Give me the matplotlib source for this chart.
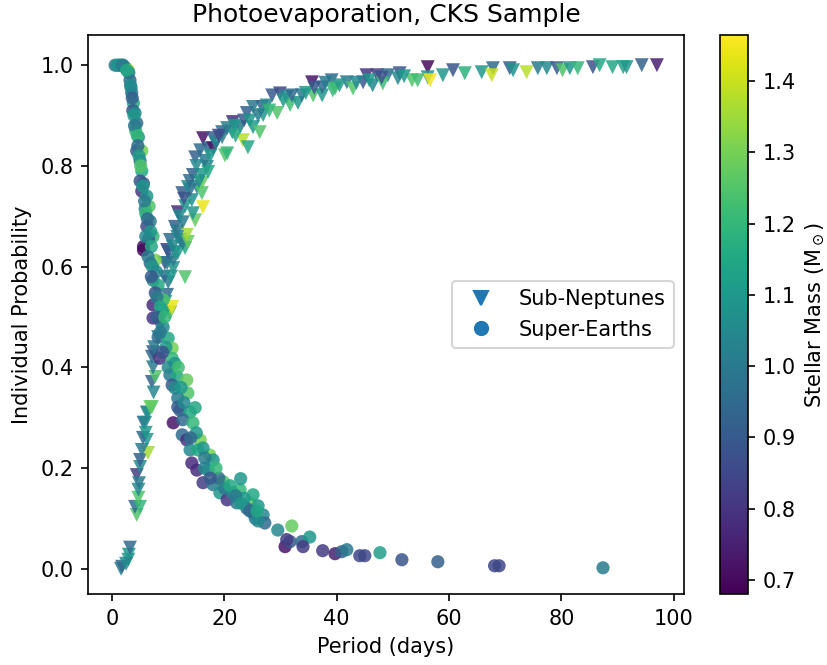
import numpy as np
import matplotlib
matplotlib.use('Agg')
import matplotlib.pyplot as plt
from matplotlib.lines import Line2D

# Super-Earths: period (days), probability, stellar mass
se_period = [0.55, 1.0, 1.5, 2.0, 2.4, 2.9, 3.0, 3.2, 3.4, 3.5, 3.8, 3.7, 4.1, 4.4, 4.2, 4.7,
             4.4, 5.3, 5.0, 5.3, 5.6, 5.3, 6.2, 5.9, 6.6, 6.8, 6.2, 7.3, 6.5, 5.6, 5.6, 7.7,
             6.8, 7.3, 8.2, 7.7, 9.1, 7.3, 8.9, 7.3, 9.1, 8.2, 10.0, 10.7, 8.5, 10.7, 11.2, 10.3,
             11.6, 13.3, 10.7, 11.2, 13.5, 11.7, 12.1, 13.9, 10.9, 12.6, 14.4, 11.7, 12.5, 13.3,
             15.7, 13.9, 15.3, 17.4, 14.2, 15.1, 17.1, 18.0, 16.2, 18.0, 19.8, 19.2, 20.5, 21.5,
             22.8, 22.9, 22.2, 24.6, 25.1, 25.1, 26.9, 27.2, 29.5, 32.0, 30.8, 31.7, 31.1, 33.8,
             35.2, 34.0, 37.5, 39.7, 40.9, 41.8, 44.1, 45.0, 47.7, 51.6, 58.0, 68.1, 68.9, 87.4,
             16.5, 19.0, 20.0, 23.5, 24.0, 26.0, 25.5, 18.5,
             1.2, 1.8, 2.6, 3.3, 3.6, 3.9, 4.0, 4.5, 4.6, 4.8, 5.1, 5.0, 5.5, 5.8, 6.0, 6.3,
             6.9, 6.0, 7.0, 6.4, 7.2, 7.9, 7.0, 8.0, 8.6, 8.0, 9.4, 8.6, 9.6, 9.0, 10.0, 11.8,
             12.3, 12.8, 14.8, 15.0, 14.0, 16.2, 16.5, 17.5, 21.0, 22.0, 23.0, 24.5, 26.0, 25.8]
se_prob = [1.0, 1.0, 1.0, 1.0, 0.995, 0.99, 0.985, 0.97, 0.955, 0.945, 0.925, 0.91, 0.905, 0.885, 0.87, 0.857,
           0.83, 0.83, 0.81, 0.79, 0.765, 0.75, 0.74, 0.715, 0.72, 0.69, 0.68, 0.66, 0.655, 0.64, 0.633, 0.613,
           0.607, 0.573, 0.563, 0.548, 0.534, 0.524, 0.514, 0.498, 0.48, 0.46, 0.458, 0.438, 0.418, 0.418, 0.408, 0.385,
           0.381, 0.375, 0.365, 0.359, 0.349, 0.339, 0.315, 0.311, 0.29, 0.296, 0.29, 0.321, 0.266, 0.256,
           0.256, 0.236, 0.236, 0.226, 0.21, 0.196, 0.196, 0.216, 0.171, 0.167, 0.173, 0.151, 0.137, 0.151,
           0.157, 0.179, 0.131, 0.131, 0.147, 0.111, 0.107, 0.091, 0.077, 0.085, 0.044, 0.054, 0.058, 0.054,
           0.063, 0.044, 0.036, 0.03, 0.034, 0.038, 0.026, 0.026, 0.032, 0.018, 0.014, 0.006, 0.006, 0.002,
           0.2, 0.18, 0.16, 0.14, 0.12, 0.125, 0.1, 0.2,
           1.0, 1.0, 0.99, 0.96, 0.935, 0.9, 0.88, 0.86, 0.84, 0.82, 0.8, 0.77, 0.76, 0.73, 0.705, 0.695,
           0.67, 0.66, 0.64, 0.62, 0.6, 0.59, 0.58, 0.54, 0.52, 0.5, 0.5, 0.47, 0.44, 0.43, 0.4, 0.4,
           0.36, 0.33, 0.32, 0.27, 0.26, 0.24, 0.22, 0.18, 0.165, 0.145, 0.13, 0.115, 0.095, 0.115]
se_mass = [1.0, 1.05, 0.95, 1.1, 1.0, 1.36, 1.05, 0.95, 1.1, 1.0, 1.15, 0.88, 1.05, 0.95, 1.2, 1.1,
           0.9, 1.3, 1.0, 1.15, 0.92, 0.8, 1.1, 1.05, 1.25, 1.0, 0.85, 1.2, 0.9, 0.72, 0.7, 1.3,
           0.95, 1.05, 1.15, 0.88, 1.25, 0.78, 1.1, 0.8, 1.05, 0.95, 1.15, 1.3, 0.8, 1.2, 1.1, 1.0,
           1.15, 1.28, 0.9, 1.05, 1.25, 1.0, 0.92, 1.15, 0.72, 0.95, 1.2, 0.9, 0.95, 0.8,
           1.3, 1.05, 1.15, 1.3, 0.78, 0.78, 1.05, 1.1, 0.82, 1.0, 1.25, 1.1, 0.8, 1.05,
           1.2, 1.1, 1.0, 1.3, 1.15, 1.0, 1.05, 0.95, 1.05, 1.28, 0.72, 0.9, 0.82, 0.95,
           1.1, 0.82, 0.82, 0.75, 0.92, 1.0, 0.85, 0.85, 1.12, 0.88, 0.92, 0.85, 0.85, 1.0,
           1.05, 0.95, 1.0, 1.1, 0.95, 1.1, 1.0, 1.2,
           1.1, 1.0, 1.15, 1.05, 0.92, 1.1, 1.0, 1.2, 0.95, 1.1, 1.25, 0.88, 1.1, 1.0, 1.2, 0.95,
           1.1, 1.05, 1.15, 1.0, 1.1, 1.05, 0.9, 1.0, 1.15, 0.92, 1.2, 1.0, 1.1, 0.88, 1.05, 1.22,
           1.1, 1.05, 1.15, 1.1, 0.95, 1.1, 1.0, 0.9, 1.15, 1.0, 1.1, 0.95, 1.05, 1.15]

# Sub-Neptunes: period (days), probability, stellar mass
sn_period = [1.6, 1.8, 2.9, 3.0, 3.2, 4.4, 4.1, 5.0, 4.7, 4.7, 4.4, 5.0, 5.0, 6.4, 5.3, 6.2,
             5.6, 5.9, 6.2, 6.4, 7.1, 6.8, 7.1, 7.7, 7.3, 7.1, 7.3, 8.2, 10.3, 10.3, 10.7, 9.8,
             10.0, 13.0, 10.9, 9.4, 9.8, 10.9, 9.8, 11.2, 11.7, 13.0, 12.6, 10.0, 10.3, 12.1,
             13.5, 13.3, 11.6, 11.2, 12.6, 14.8, 11.7, 14.4, 14.2, 16.2, 12.5, 13.9, 15.1, 16.0,
             13.5, 14.4, 16.0, 16.0, 16.9, 14.8, 17.1, 15.7, 16.2, 17.1, 18.0, 18.0, 19.6, 20.1,
             20.5, 19.6, 21.5, 21.4, 22.8, 23.3, 24.2, 25.1, 26.3, 24.0, 25.1, 26.7, 26.9, 29.4,
             28.5, 29.9, 31.1, 31.7, 33.1, 33.8, 35.6, 35.8, 37.4, 37.4, 39.1, 39.3, 39.7, 41.8,
             42.9, 44.7, 45.3, 47.2, 46.4, 49.1, 48.2, 51.2, 50.9, 53.4, 54.4, 56.2, 56.2, 56.6,
             58.9, 60.7, 62.8, 65.8, 67.8, 67.6, 70.8, 71.4, 73.8, 75.8, 77.4, 79.2, 80.2, 81.5,
             82.9, 85.6, 86.8, 89.1, 91.0, 91.6, 94.3, 97.0,
             2.5, 4.8, 5.5, 6.0, 7.4, 7.5, 8.5, 9.0, 9.5, 9.3, 10.5, 10.8, 11.5, 12.0,
             13.0, 12.8, 13.8, 15.5, 15.0, 16.5, 17.5, 18.5, 19.0, 20.5, 21.8, 22.0, 23.5, 24.5,
             26.0, 27.5, 28.0, 30.5, 32.0, 34.5, 36.0, 38.0, 40.5, 43.5, 45.8, 48.0, 52.0]
sn_prob = [0.0, 0.004, 0.018, 0.028, 0.042, 0.107, 0.123, 0.123, 0.141, 0.157, 0.186, 0.202, 0.216, 0.23, 0.236, 0.256,
           0.29, 0.29, 0.31, 0.31, 0.321, 0.321, 0.371, 0.381, 0.4, 0.421, 0.43, 0.46, 0.508, 0.51, 0.52, 0.544,
           0.569, 0.579, 0.597, 0.607, 0.607, 0.613, 0.633, 0.629, 0.627, 0.637, 0.647, 0.629, 0.653, 0.653,
           0.649, 0.663, 0.659, 0.679, 0.688, 0.692, 0.708, 0.706, 0.732, 0.718, 0.746, 0.752, 0.758, 0.746,
           0.758, 0.782, 0.766, 0.782, 0.798, 0.817, 0.788, 0.831, 0.855, 0.835, 0.835, 0.855, 0.857, 0.821,
           0.825, 0.867, 0.887, 0.867, 0.877, 0.851, 0.837, 0.877, 0.867, 0.905, 0.917, 0.917, 0.901, 0.905,
           0.94, 0.944, 0.937, 0.921, 0.925, 0.94, 0.966, 0.94, 0.94, 0.956, 0.97, 0.95, 0.954, 0.966,
           0.954, 0.966, 0.98, 0.98, 0.96, 0.98, 0.964, 0.984, 0.974, 0.97, 0.97, 0.996, 0.976, 0.97,
           0.98, 0.99, 0.984, 0.986, 0.994, 0.98, 0.994, 0.99, 0.986, 0.994, 0.994, 0.994, 0.99, 0.994,
           0.994, 0.996, 1.0, 0.996, 0.996, 0.996, 1.0, 1.0,
           0.01, 0.17, 0.26, 0.27, 0.35, 0.44, 0.48, 0.5, 0.53, 0.58, 0.58, 0.64, 0.67, 0.7,
           0.72, 0.735, 0.77, 0.77, 0.8, 0.81, 0.82, 0.845, 0.86, 0.875, 0.88, 0.86, 0.89, 0.89,
           0.9, 0.92, 0.91, 0.93, 0.94, 0.945, 0.955, 0.965, 0.96, 0.965, 0.97, 0.975, 0.978]
sn_mass = [1.0, 0.95, 1.1, 1.1, 0.95, 1.25, 0.95, 1.2, 1.25, 1.05, 0.82, 1.05, 0.92, 1.36, 1.0, 1.1,
           0.95, 1.05, 1.0, 1.08, 1.25, 1.28, 0.92, 1.25, 1.0, 0.95, 0.9, 1.0, 1.1, 1.36, 1.44, 0.95,
           1.0, 1.25, 1.08, 0.88, 1.0, 1.0, 0.82, 1.08, 1.1, 1.15, 1.0, 0.92, 0.95, 1.0,
           1.28, 1.36, 1.05, 0.92, 1.0, 1.28, 0.78, 1.1, 1.08, 1.44, 0.92, 0.95, 1.0, 1.25,
           1.05, 0.92, 1.28, 1.1, 1.05, 0.92, 1.15, 0.95, 0.72, 0.92, 0.72, 0.92, 1.0, 1.25,
           1.2, 0.95, 0.78, 1.05, 1.0, 1.38, 1.15, 1.1, 1.25, 0.92, 1.0, 0.95, 1.1, 1.25,
           0.9, 0.85, 1.05, 1.22, 1.1, 1.0, 0.72, 1.25, 1.1, 0.95, 0.95, 1.2, 1.22, 1.0,
           1.25, 0.9, 0.8, 0.82, 1.05, 0.95, 1.22, 0.88, 1.05, 1.25, 1.22, 0.7, 1.1, 1.45,
           1.1, 0.88, 1.18, 1.1, 0.95, 1.4, 0.9, 1.08, 1.38, 1.0, 1.05, 0.9, 1.25, 1.1,
           1.2, 0.88, 1.15, 1.15, 1.12, 1.1, 0.92, 0.75,
           1.05, 1.0, 0.95, 1.1, 1.05, 1.0, 0.95, 1.05, 1.1, 0.95, 1.1, 1.05, 1.0, 1.05,
           1.1, 0.88, 0.95, 1.08, 1.05, 1.0, 1.1, 1.05, 0.85, 1.0, 1.1, 1.15, 0.9, 1.1,
           1.0, 1.05, 1.2, 1.1, 0.95, 1.1, 0.9, 1.0, 1.1, 1.05, 1.1, 0.88, 1.1]

vmin, vmax = 0.68, 1.465

fig = plt.figure(figsize=(828/150, 665/150), dpi=150)
ax = fig.add_axes([0.1063, 0.1068, 0.7198, 0.8406])
cax = fig.add_axes([0.8696, 0.1068, 0.0338, 0.8406])

sc = ax.scatter(sn_period, sn_prob, c=sn_mass, cmap='viridis', vmin=vmin, vmax=vmax,
                marker='v', s=45, alpha=0.85, edgecolors='none')
ax.scatter(se_period, se_prob, c=se_mass, cmap='viridis', vmin=vmin, vmax=vmax,
           marker='o', s=40, alpha=0.85, edgecolors='none')
ax.set_ylim(-0.05, 1.06)

ax.set_title('Photoevaporation, CKS Sample', fontsize=12)
ax.set_xlabel('Period (days)')
ax.set_ylabel('Individual Probability')

handles = [Line2D([], [], marker='v', ls='', color='#1f77b4', markersize=6.5),
           Line2D([], [], marker='o', ls='', color='#1f77b4', markersize=6.3)]
ax.legend(handles, ['Sub-Neptunes', 'Super-Earths'], loc='center right')

cb = fig.colorbar(sc, cax=cax)
cb.solids.set_alpha(1)
cb.set_label(r'Stellar Mass (M$_\odot$)')

fig.savefig('out.png', dpi=150)
